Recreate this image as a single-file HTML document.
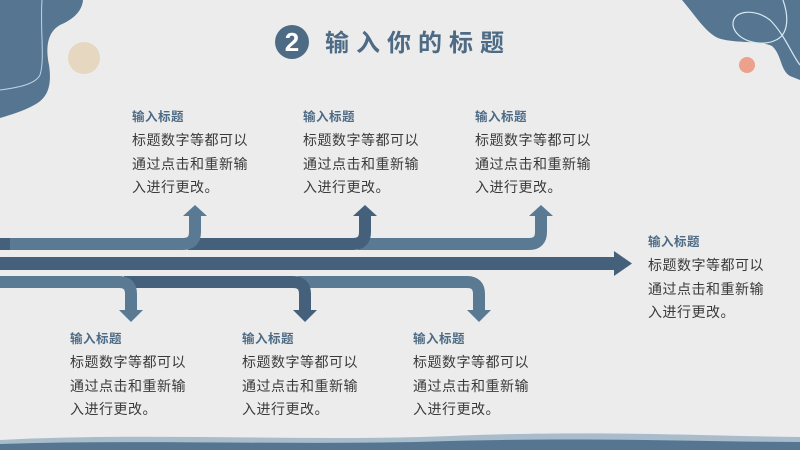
<!DOCTYPE html>
<html><head><meta charset="utf-8"><style>
html,body{margin:0;padding:0}
body{width:800px;height:450px;overflow:hidden;background:#ececec;position:relative;font-family:"Liberation Sans","Noto Sans CJK SC",sans-serif}
svg{position:absolute;left:0;top:0}
.b{position:absolute;font-size:14px;color:#3a3a3a;line-height:23.5px;letter-spacing:0.5px}
.b b{display:block;color:#4e6b85;font-size:12.5px;line-height:23px}
</style></head><body>
<svg width="800" height="450" viewBox="0 0 800 450">
<path d="M0 0 H83 C82 12 72 20 60 25 C46 33 46 50 49 65 C52 85 48 97 36 104 C24 111 10 115 0 118 Z" fill="#557590"/>
<path d="M42 0 C40 30 45 60 40 75 C35 85 15 88 0 90" fill="none" stroke="#bcd6e6" stroke-width="1"/>
<circle cx="84" cy="58" r="16" fill="#e5d7c0"/>
<path d="M682 0 C695 15 705 32 718 38 C735 44 760 40 772 46 C782 55 780 70 790 76 L800 80 V0 Z" fill="#557590"/>
<path d="M783 0 C790 20 787 35 776 40 C760 48 735 40 733 25 C732 10 755 8 770 20 C785 35 792 55 800 65" fill="none" stroke="#d6e8f2" stroke-width="1.2"/>
<circle cx="747" cy="65" r="8" fill="#eba18c"/>
<path d="M0 440 C150 432 300 442 450 436 C600 430 700 436 800 437 V450 H0 Z" fill="#a9bccb"/>
<path d="M0 444 C150 439 300 446 450 441 C600 437 700 442 800 442 V450 H0 Z" fill="#557590"/>
<circle cx="292" cy="42" r="17" fill="#4e6b85"/>
<text x="292" y="51" text-anchor="middle" font-family="Liberation Sans" font-weight="bold" font-size="26" fill="#fff">2</text>
<text x="325" y="51" font-family="Noto Sans CJK SC" font-weight="bold" font-size="24" letter-spacing="7" fill="#4e6b85">输入你的标题</text>
<rect x="0" y="257" width="616" height="13" fill="#45607a"/>
<polygon points="614,251 632,263.5 614,276" fill="#45607a"/>
<g fill="none" stroke-width="12">
<path d="M358 244 H529 Q541 244 541 232 V214" stroke="#5a7993"/>
<path d="M188 244 H353 Q365 244 365 232 V214" stroke="#45607a"/>
<path d="M0 244 H183 Q195 244 195 232 V214" stroke="#5a7993"/>
<path d="M298 282 H467 Q479 282 479 294 V312" stroke="#5a7993"/>
<path d="M124 282 H293 Q305 282 305 294 V312" stroke="#45607a"/>
<path d="M0 282 H119 Q131 282 131 294 V312" stroke="#5a7993"/>
</g>
<rect x="0" y="238" width="10" height="12" fill="#45607a"/>
<polygon points="183,216 195,205 207,216" fill="#5a7993"/>
<polygon points="353,216 365,205 377,216" fill="#45607a"/>
<polygon points="529,216 541,205 553,216" fill="#5a7993"/>
<polygon points="119,310 131,322 143,310" fill="#5a7993"/>
<polygon points="293,310 305,322 317,310" fill="#45607a"/>
<polygon points="467,310 479,322 491,310" fill="#5a7993"/>
</svg>
<div class="b" style="left:132px;top:106px"><b>输入标题</b>标题数字等都可以<br>通过点击和重新输<br>入进行更改。</div>
<div class="b" style="left:303px;top:106px"><b>输入标题</b>标题数字等都可以<br>通过点击和重新输<br>入进行更改。</div>
<div class="b" style="left:475px;top:106px"><b>输入标题</b>标题数字等都可以<br>通过点击和重新输<br>入进行更改。</div>
<div class="b" style="left:648px;top:231px"><b>输入标题</b>标题数字等都可以<br>通过点击和重新输<br>入进行更改。</div>
<div class="b" style="left:70px;top:328px"><b>输入标题</b>标题数字等都可以<br>通过点击和重新输<br>入进行更改。</div>
<div class="b" style="left:242px;top:328px"><b>输入标题</b>标题数字等都可以<br>通过点击和重新输<br>入进行更改。</div>
<div class="b" style="left:413px;top:328px"><b>输入标题</b>标题数字等都可以<br>通过点击和重新输<br>入进行更改。</div>
</body></html>
